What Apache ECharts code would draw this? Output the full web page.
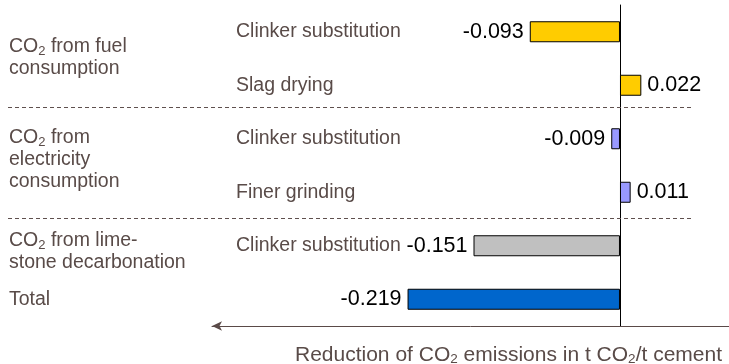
<!DOCTYPE html>
<html><head><meta charset="utf-8">
<script src="https://cdn.jsdelivr.net/npm/echarts@6/dist/echarts.min.js"></script>
<style>html,body{margin:0;padding:0;background:#fff}#c{width:729px;height:364px}</style>
</head><body><div id="c"></div>
<script>
// ---- data ----
const categories = ['Clinker substitution', 'Slag drying', 'Clinker substitution', 'Finer grinding', 'Clinker substitution', ''];
const values = [-0.093, 0.022, -0.009, 0.011, -0.151, -0.219];
const groupLabels = ['CO₂ from fuel\nconsumption', 'CO₂ from\nelectricity\nconsumption', 'CO₂ from lime-\nstone decarbonation', 'Total'];
const groupRows = [[0, 1], [2, 3], [4], [5]];
const axisTitle = 'Reduction of CO₂ emissions in t CO₂/t cement';

// ---- styles ----
const barColors = ['#FFCC00', '#FFCC00', '#9999FF', '#9999FF', '#C0C0C0', '#0066CC'];
const groupOffsets = [-1, -6, 6, 0];
const textColor = '#594b48';
const FONT = "'Liberation Sans', Arial, sans-serif";

function sub(s) { return s.replace(/₂/g, '{s|2}'); }

const chart = echarts.init(document.getElementById('c'));
chart.setOption({
  animation: false,
  grid: { left: 212, right: 0, top: 5, bottom: 38, containLabel: false, outerBoundsMode: 'none' },
  xAxis: {
    type: 'value', min: -0.4206, max: 0.1124,
    axisLabel: { show: false }, splitLine: { show: false }, axisTick: { show: false },
    axisLine: { show: true, lineStyle: { color: '#5a4a48', width: 1 }, symbol: ['arrow', 'none'], symbolSize: [7, 10] }
  },
  yAxis: [{
    type: 'category', inverse: true, data: categories,
    axisTick: { show: false },
    axisLine: { show: true, onZero: true, lineStyle: { color: '#000', width: 1 } },
    axisLabel: { show: false }
  }, {
    type: 'category', inverse: true, data: categories, position: 'left',
    axisTick: { show: false },
    axisLine: { show: false, onZero: false },
    axisLabel: { align: 'left', margin: -24, fontSize: 19.5, fontFamily: FONT, color: textColor }
  }],
  title: {
    text: sub(axisTitle), right: 2, top: 339,
    textStyle: {
      fontSize: 21, fontFamily: FONT, color: textColor, fontWeight: 'normal', lineHeight: 22,
      rich: { s: { fontSize: 13.5, fontFamily: FONT, color: textColor, lineHeight: 12, verticalAlign: 'bottom' } }
    }
  },
  series: [{
    type: 'bar', barWidth: 21,
    data: values.map((v, i) => ({
      value: v,
      itemStyle: { color: barColors[i], borderColor: '#000', borderWidth: 1 },
      label: { position: v < 0 ? 'left' : 'right' }
    })),
    label: {
      show: true, distance: 6, fontSize: 21.5, fontFamily: FONT, color: '#000',
      formatter: p => p.value.toFixed(3)
    }
  }]
});

const graphics = [];
[107.5, 218.5].forEach(y => graphics.push({
  type: 'line', shape: { x1: 8, y1: y, x2: 694, y2: y },
  style: { stroke: '#5f504e', lineWidth: 1, lineDash: [4, 3] }, z: 1
}));
groupLabels.forEach((g, gi) => {
  const ys = groupRows[gi].map(r => chart.convertToPixel({ yAxisIndex: 0 }, r));
  const yc = ys.reduce((a, b) => a + b, 0) / ys.length + groupOffsets[gi];
  graphics.push({
    type: 'text', x: 9, y: yc,
    style: {
      text: sub(g), fill: textColor, fontSize: 19.5, fontFamily: FONT, lineHeight: 22,
      verticalAlign: 'middle', align: 'left',
      rich: { s: { fontSize: 13, fontFamily: FONT, fill: textColor, lineHeight: 12, verticalAlign: 'bottom' } }
    }
  });
});
chart.setOption({ graphic: graphics });
</script>
</body></html>
